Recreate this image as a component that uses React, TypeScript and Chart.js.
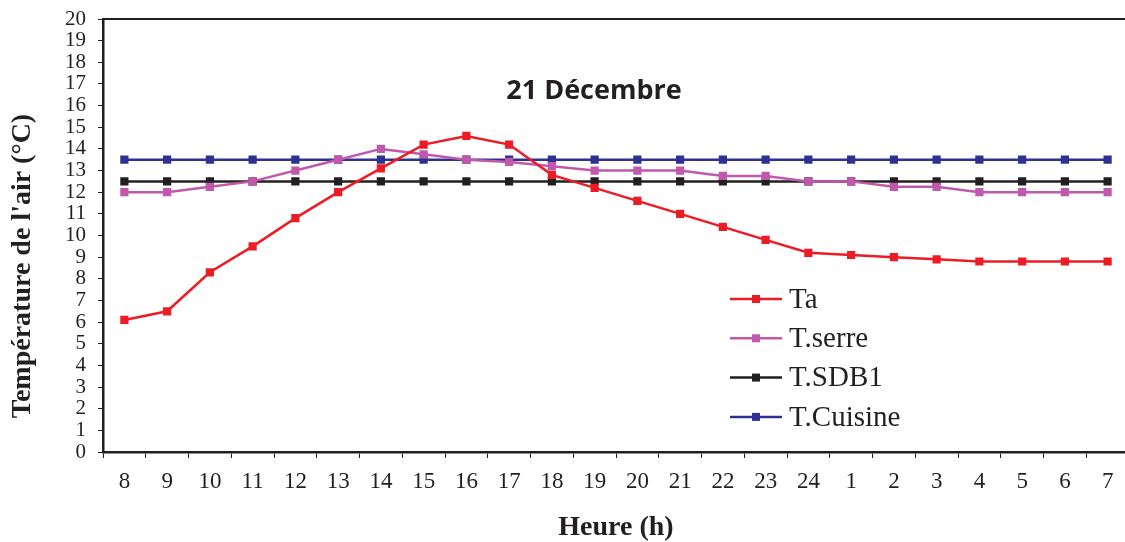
import React, { useEffect, useRef } from 'react';
import { Chart, registerables } from 'chart.js';

Chart.register(...registerables);

const hours = ['8', '9', '10', '11', '12', '13', '14', '15', '16', '17', '18', '19', '20', '21', '22', '23', '24', '1', '2', '3', '4', '5', '6', '7'];
const ta = [6.1, 6.5, 8.3, 9.5, 10.8, 12.0, 13.1, 14.2, 14.6, 14.2, 12.8, 12.2, 11.6, 11.0, 10.4, 9.8, 9.2, 9.1, 9.0, 8.9, 8.8, 8.8, 8.8, 8.8];
const tSerre = [12, 12, 12.25, 12.5, 13, 13.5, 14, 13.75, 13.5, 13.4, 13.2, 13, 13, 13, 12.75, 12.75, 12.5, 12.5, 12.25, 12.25, 12, 12, 12, 12];
const tSdb1 = [12.5, 12.5, 12.5, 12.5, 12.5, 12.5, 12.5, 12.5, 12.5, 12.5, 12.5, 12.5, 12.5, 12.5, 12.5, 12.5, 12.5, 12.5, 12.5, 12.5, 12.5, 12.5, 12.5, 12.5];
const tCuisine = [13.5, 13.5, 13.5, 13.5, 13.5, 13.5, 13.5, 13.5, 13.5, 13.5, 13.5, 13.5, 13.5, 13.5, 13.5, 13.5, 13.5, 13.5, 13.5, 13.5, 13.5, 13.5, 13.5, 13.5];
const seriesNames = ['Ta', 'T.serre', 'T.SDB1', 'T.Cuisine'];
const seriesColors = ['#ED1C24', '#C059AC', '#231F20', '#2E3192'];
const yMin = 0;
const yMax = 20;
const yStep = 1;

const chartTitle = '21 Décembre';
const xTitle = 'Heure (h)';
const yTitle = "Température de l'air (°C)";

const W = 1140;
const H = 542;
const INK = '#231F20';

export default function App() {
  const ref = useRef<HTMLCanvasElement>(null);

  useEffect(() => {
    const canvas = ref.current;
    if (!canvas) return;

    const decor = {
      id: 'decor',
      afterDraw(chart: any) {
        const { ctx, chartArea: a } = chart;
        ctx.save();
        // top frame line
        ctx.strokeStyle = INK;
        ctx.lineWidth = 2;
        ctx.beginPath();
        ctx.moveTo(a.left, a.top);
        ctx.lineTo(a.right, a.top);
        ctx.stroke();

        // inner title
        ctx.fillStyle = INK;
        ctx.textAlign = 'center';
        ctx.textBaseline = 'middle';
        ctx.font = 'bold 27px "Open Sans"';
        ctx.fillText(chartTitle, 594, 91);

        // legend
        const lx0 = 730;
        const lx1 = 782;
        const tx = 789;
        const rowY0 = 299;
        const rowGap = 39.3;
        ctx.font = '29px "Liberation Serif"';
        ctx.textAlign = 'left';
        chart.data.datasets.forEach((ds: any, i: number) => {
          const y = rowY0 + i * rowGap;
          ctx.strokeStyle = ds.borderColor;
          ctx.lineWidth = 2.5;
          ctx.beginPath();
          ctx.moveTo(lx0, y);
          ctx.lineTo(lx1, y);
          ctx.stroke();
          ctx.fillStyle = ds.borderColor;
          ctx.fillRect((lx0 + lx1) / 2 - 4, y - 4, 8, 8);
          ctx.fillStyle = INK;
          ctx.fillText(ds.label, tx, y + 1);
        });

        // axis titles
        ctx.fillStyle = INK;
        ctx.textAlign = 'center';
        ctx.textBaseline = 'middle';
        ctx.font = 'bold 28px "Liberation Serif"';
        ctx.fillText(xTitle, (a.left + a.right) / 2, 528);
        ctx.translate(23, 266);
        ctx.rotate(-Math.PI / 2);
        ctx.fillText(yTitle, 0, 0);
        ctx.restore();
      },
    };

    const values = [ta, tSerre, tSdb1, tCuisine];
    const chart = new Chart(canvas, {
      type: 'line',
      data: {
        labels: hours,
        datasets: values.map((v, i) => ({
          label: seriesNames[i],
          data: v,
          borderColor: seriesColors[i],
          backgroundColor: seriesColors[i],
          borderWidth: 2.5,
          pointStyle: 'rect',
          pointRadius: 5.8,
          pointBorderWidth: 0,
          pointBackgroundColor: seriesColors[i],
          pointBorderColor: seriesColors[i],
          tension: 0,
          fill: false,
        })),
      },
      options: {
        animation: false,
        responsive: false,
        devicePixelRatio: 1,
        layout: { padding: { left: 0, top: 19, right: 11, bottom: 0 } },
        plugins: {
          legend: { display: false },
          tooltip: { enabled: false },
          title: { display: false },
        },
        scales: {
          x: {
            type: 'category',
            offset: true,
            grid: {
              offset: true,
              drawOnChartArea: false,
              drawTicks: true,
              tickLength: 6,
              color: INK,
              lineWidth: 1,
            },
            border: { display: true, color: INK, width: 2.5 },
            ticks: {
              color: INK,
              font: { family: '"Liberation Serif"', size: 23 },
              padding: 10,
              maxRotation: 0,
              autoSkip: false,
            },
            afterFit(s: any) {
              s.height = 90;
              s.paddingLeft = 0;
              s.paddingRight = 0;
            },
          },
          y: {
            min: yMin,
            max: yMax,
            grid: {
              drawOnChartArea: false,
              drawTicks: true,
              tickLength: 5,
              color: INK,
              lineWidth: 1,
            },
            border: { display: true, color: INK, width: 2.5 },
            ticks: {
              stepSize: yStep,
              autoSkip: false,
              color: INK,
              font: { family: '"Liberation Serif"', size: 21 },
              padding: 12,
            },
            afterFit(s: any) {
              s.width = 103;
              s.paddingTop = 0;
              s.paddingBottom = 0;
            },
          },
        },
      },
      plugins: [decor],
    });

    return () => chart.destroy();
  }, []);

  return (
    <div
      style={{
        position: 'fixed',
        left: 0,
        top: 0,
        width: 1125,
        height: 542,
        overflow: 'hidden',
        background: '#fff',
      }}
    >
      <canvas ref={ref} width={W} height={H} style={{ display: 'block', width: W, height: H }} />
    </div>
  );
}
